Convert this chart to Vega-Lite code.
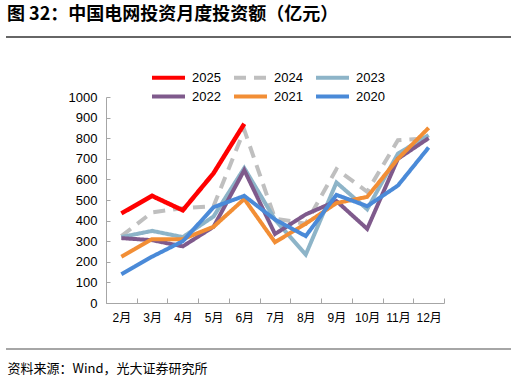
{
  "$schema": "https://vega.github.io/schema/vega-lite/v6.json",
  "width": 338,
  "height": 206,
  "autosize": "none",
  "padding": {"left": 106, "top": 97, "right": 72, "bottom": 79},
  "background": "white",
  "title": {
    "text": "图 32：中国电网投资月度投资额（亿元）",
    "anchor": "start",
    "frame": "group",
    "dx": -99,
    "font": "Noto Sans CJK SC",
    "fontSize": 18,
    "fontWeight": "bold",
    "color": "#000000",
    "baseline": "top",
    "offset": 0,
    "dy": -12
  },
  "config": {
    "view": {"stroke": null},
    "axis": {"grid": false, "labelFont": "Liberation Sans, Noto Sans CJK SC", "labelColor": "#000000", "domainColor": "#A6A6A6", "tickColor": "#A6A6A6", "domainWidth": 1, "tickWidth": 1, "labelOverlap": false},
    "axisY": {"tickCount": 10, "format": "d", "tickSize": -4, "labelPadding": 13, "labelFontSize": 13, "labelOverlap": false},
    "legend": {
      "orient": "none",
      "legendX": 52,
      "legendY": -30,
      "columns": 3,
      "direction": "horizontal",
      "symbolType": "M-2,0H2",
      "symbolSize": 272,
      "symbolStrokeWidth": 4,
      "labelFont": "Liberation Sans",
      "labelFontSize": 13,
      "labelColor": "#000000",
      "labelOffset": 13,
      "columnPadding": 5,
      "rowPadding": 0
    }
  },
  "data": {
    "values": [
      {"m": "2月", "year": "2025", "v": 435},
      {"m": "3月", "year": "2025", "v": 520},
      {"m": "4月", "year": "2025", "v": 450},
      {"m": "5月", "year": "2025", "v": 630},
      {"m": "6月", "year": "2025", "v": 870},
      {"m": "2月", "year": "2024", "v": 325},
      {"m": "3月", "year": "2024", "v": 440},
      {"m": "4月", "year": "2024", "v": 460},
      {"m": "5月", "year": "2024", "v": 470},
      {"m": "6月", "year": "2024", "v": 840},
      {"m": "7月", "year": "2024", "v": 410},
      {"m": "8月", "year": "2024", "v": 385},
      {"m": "9月", "year": "2024", "v": 650},
      {"m": "10月", "year": "2024", "v": 540},
      {"m": "11月", "year": "2024", "v": 790},
      {"m": "12月", "year": "2024", "v": 800},
      {"m": "2月", "year": "2023", "v": 320},
      {"m": "3月", "year": "2023", "v": 350},
      {"m": "4月", "year": "2023", "v": 320},
      {"m": "5月", "year": "2023", "v": 420},
      {"m": "6月", "year": "2023", "v": 655},
      {"m": "7月", "year": "2023", "v": 405},
      {"m": "8月", "year": "2023", "v": 235},
      {"m": "9月", "year": "2023", "v": 585},
      {"m": "10月", "year": "2023", "v": 455},
      {"m": "11月", "year": "2023", "v": 725},
      {"m": "12月", "year": "2023", "v": 815},
      {"m": "2月", "year": "2022", "v": 315},
      {"m": "3月", "year": "2022", "v": 305},
      {"m": "4月", "year": "2022", "v": 275},
      {"m": "5月", "year": "2022", "v": 370},
      {"m": "6月", "year": "2022", "v": 645},
      {"m": "7月", "year": "2022", "v": 335},
      {"m": "8月", "year": "2022", "v": 430},
      {"m": "9月", "year": "2022", "v": 495},
      {"m": "10月", "year": "2022", "v": 360},
      {"m": "11月", "year": "2022", "v": 700},
      {"m": "12月", "year": "2022", "v": 800},
      {"m": "2月", "year": "2021", "v": 225},
      {"m": "3月", "year": "2021", "v": 310},
      {"m": "4月", "year": "2021", "v": 310},
      {"m": "5月", "year": "2021", "v": 370},
      {"m": "6月", "year": "2021", "v": 505},
      {"m": "7月", "year": "2021", "v": 295},
      {"m": "8月", "year": "2021", "v": 385},
      {"m": "9月", "year": "2021", "v": 485},
      {"m": "10月", "year": "2021", "v": 515},
      {"m": "11月", "year": "2021", "v": 700},
      {"m": "12月", "year": "2021", "v": 850},
      {"m": "2月", "year": "2020", "v": 140},
      {"m": "3月", "year": "2020", "v": 225},
      {"m": "4月", "year": "2020", "v": 300},
      {"m": "5月", "year": "2020", "v": 465},
      {"m": "6月", "year": "2020", "v": 520},
      {"m": "7月", "year": "2020", "v": 405},
      {"m": "8月", "year": "2020", "v": 325},
      {"m": "9月", "year": "2020", "v": 525},
      {"m": "10月", "year": "2020", "v": 470},
      {"m": "11月", "year": "2020", "v": 570},
      {"m": "12月", "year": "2020", "v": 755}
    ]
  },
  "layer": [
    {
      "encoding": {
        "x": {
          "field": "m",
          "type": "ordinal",
          "sort": ["2月", "3月", "4月", "5月", "6月", "7月", "8月", "9月", "10月", "11月", "12月"],
          "scale": {"type": "band", "paddingInner": 0, "paddingOuter": 0},
          "axis": {
            "title": "资料来源：Wind，光大证券研究所",
            "titleFont": "Noto Sans CJK SC",
            "titleFontSize": 13,
            "titleFontWeight": "normal",
            "titleColor": "#000000",
            "titleAlign": "left",
            "titleBaseline": "top",
            "titleX": -99,
            "titleY": 59,
            "tickBand": "extent",
            "tickSize": -5,
            "labelPadding": 14,
            "labelFontSize": 12,
            "labelAngle": 0
          }
        },
        "y": {
          "field": "v",
          "type": "quantitative",
          "title": null,
          "scale": {"domain": [0, 1000], "nice": false}
        },
        "color": {
          "field": "year",
          "type": "nominal",
          "title": null,
          "scale": {
            "domain": ["2025", "2024", "2023", "2022", "2021", "2020"],
            "range": ["#FF0000", "#BFBFBF", "#8DB4C8", "#7F5A8C", "#F28E35", "#4A8AD8"]
          }
        },
        "strokeDash": {
          "field": "year",
          "type": "nominal",
          "title": null,
          "scale": {
            "domain": ["2025", "2024", "2023", "2022", "2021", "2020"],
            "range": [[1, 0], [12, 8], [1, 0], [1, 0], [1, 0], [1, 0]]
          }
        }
      },
      "layer": [
        {
          "transform": [{"filter": "datum.year === '2024'"}],
          "mark": {"type": "line", "strokeWidth": 4}
        },
        {
          "transform": [{"filter": "datum.year !== '2024' && datum.year !== '2025'"}],
          "mark": {"type": "line", "strokeWidth": 4}
        },
        {
          "transform": [{"filter": "datum.year === '2025'"}],
          "mark": {"type": "line", "strokeWidth": 4.5}
        }
      ]
    },
    {
      "data": {"values": [{}]},
      "layer": [
        {
          "mark": {"type": "rule", "color": "#333333", "strokeWidth": 1.5},
          "encoding": {
            "x": {"datum": -100, "type": "quantitative", "scale": {"domain": [0, 338]}, "axis": null},
            "x2": {"datum": 405},
            "y": {"datum": 1291, "type": "quantitative", "title": null}
          }
        },
        {
          "mark": {"type": "rule", "color": "#888888", "strokeWidth": 1.5},
          "encoding": {
            "x": {"datum": -100, "type": "quantitative", "scale": {"domain": [0, 338]}, "axis": null},
            "x2": {"datum": 405},
            "y": {"datum": -223, "type": "quantitative", "title": null}
          }
        }
      ]
    }
  ],
  "resolve": {"scale": {"x": "independent"}}
}
